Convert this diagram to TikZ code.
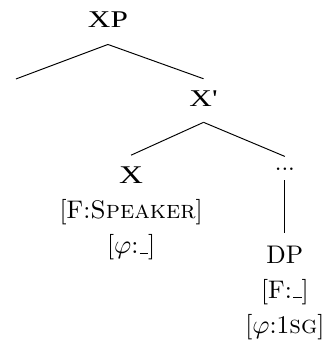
\documentclass[tikz,border=0pt]{standalone}
\usepackage{fontspec}
\newfontfamily\timesfont{Liberation Serif}
\usepackage{amsmath,amssymb}
\usepackage{graphicx}
\newcommand\catlabel[1]{\scalebox{1.3}[1]{\timesfont #1}}
\newcommand\blank{\kern.06em\rule{.32em}{.45pt}}

\begin{document}
\begin{tikzpicture}[
    cat/.style={inner sep=0pt},
    feat/.style={inner sep=0pt, align=center, font=\fontsize{10.6}{14.6}\selectfont}]
    \useasboundingbox (0,0) rectangle (4.85,5.08);

    \node[cat,anchor=base] (xp) at (1.58,4.675) {\catlabel{XP}};
    \coordinate (spec) at (0.234,3.924);
    \node[cat,anchor=base] (xbar) at (2.98,3.514) {\catlabel{X'}};

    \node[feat,anchor=north] (x) at (1.92,2.64)
        {\catlabel{X}\\{[}F:\textsc{Speaker}]\\{[}$\varphi$:\blank]};
    \node[inner sep=0pt,anchor=base] (dots) at (4.17,2.577) {...};
    \node[feat,anchor=north] (dp) at (4.17,1.49)
        {DP\\{[}F:\blank]\\{[}$\varphi$:1\textsc{sg}]};

    \draw ([yshift=-6.8pt]xp.south) -- (spec);
    \draw ([yshift=-6.8pt]xp.south) -- ([yshift=5pt]xbar.north);
    \draw ([yshift=-6.2pt]xbar.south) -- ([yshift=4.8pt]x.north);
    \draw ([yshift=-6.2pt]xbar.south) -- ([yshift=4.8pt]dots.north);
    \draw ([yshift=-3.7pt]dots.south) -- ([yshift=5pt]dp.north);
\end{tikzpicture}
\end{document}
